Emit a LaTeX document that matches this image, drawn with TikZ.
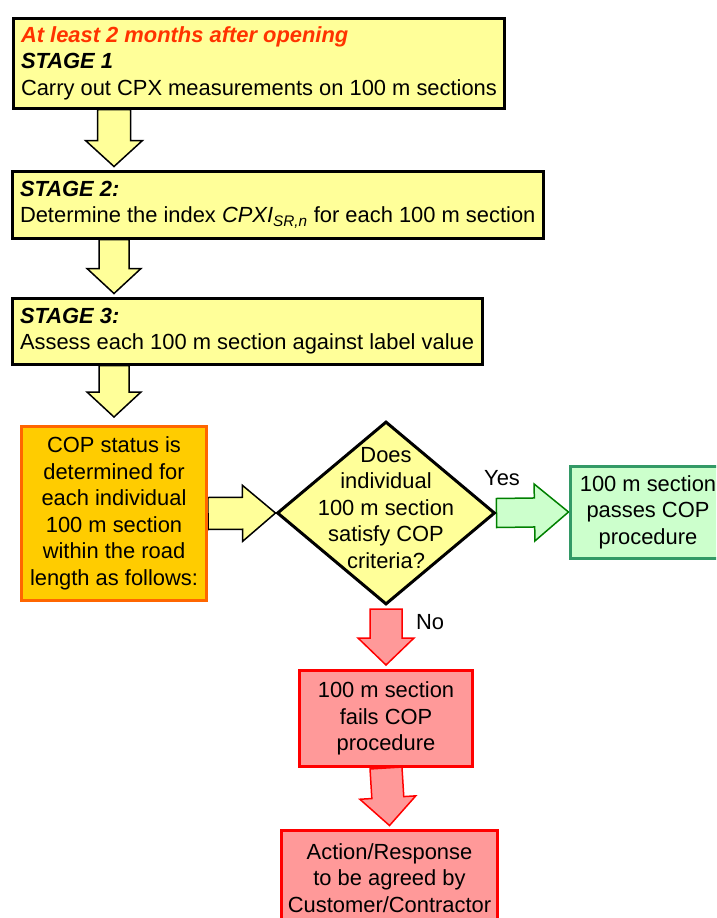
\documentclass[tikz,border=0pt]{standalone}
\usepackage{fontspec}
\setmainfont{Liberation Sans}
\usepackage{xcolor}
\usetikzlibrary{shapes.geometric,calc}

\definecolor{StageFill}{HTML}{FFFF99}
\definecolor{CopFill}{HTML}{FFCC00}
\definecolor{CopLine}{HTML}{FF6600}
\definecolor{FailFill}{HTML}{FF9999}
\definecolor{FailLine}{HTML}{FF0000}
\definecolor{PassFill}{HTML}{CCFFCC}
\definecolor{PassLine}{HTML}{339966}
\definecolor{PassArrow}{HTML}{008000}
\definecolor{OpenRed}{HTML}{FF3300}

\pgfdeclarelayer{background}
\pgfsetlayers{background,main}

\tikzset{
  every node/.append style={font=\fontsize{21.9}{26.5}\selectfont},
  stagebox/.style={draw=black,line width=3pt,fill=StageFill,rectangle,
    align=left,inner xsep=8pt,anchor=north west},
  copbox/.style={draw=CopLine,line width=3pt,fill=CopFill,rectangle,
    align=center,inner sep=0pt},
  askbox/.style={draw=black,line width=3pt,fill=StageFill,diamond,
    inner sep=0pt},
  passbox/.style={draw=PassLine,line width=3pt,fill=PassFill,rectangle,
    align=center,inner sep=0pt},
  failbox/.style={draw=FailLine,line width=3pt,fill=FailFill,rectangle,
    align=center,inner sep=0pt},
  stagearrow/.style={draw=black,line width=1.5pt,fill=StageFill,line join=miter},
  passarrow/.style={draw=PassArrow,line width=1.5pt,fill=PassFill,line join=miter},
  failarrow/.style={draw=FailLine,line width=1.5pt,fill=FailFill,line join=miter},
}

% fat block arrow: [style]{from}{tip}{shaft half width}{head half width}{head length}
\newcommand{\fatarrow}[6][]{%
  \path ($(#3)!#6!(#2)$) coordinate (fathead);
  \draw[#1] ($(#2)!#4!90:(#3)$) -- ($(fathead)!#4!90:(#3)$)
    -- ($(fathead)!#5!90:(#3)$) -- (#3)
    -- ($(fathead)!#5!-90:(#3)$) -- ($(fathead)!#4!-90:(#3)$)
    -- ($(#2)!#4!-90:(#3)$) -- cycle;}

\begin{document}
\begin{tikzpicture}[x=1pt,y=-1pt]
\useasboundingbox (0,0) rectangle (716,918);
\clip (0,0) rectangle (716,918);
%%
\node (stage1) at (11.5,16.5)
  [stagebox,minimum height=90pt]
  {\textcolor{OpenRed}{\textbf{\textit{At least 2 months after opening}}}\\
   \textbf{\textit{STAGE 1}}\\
   Carry out CPX measurements on 100 m sections};
\node (stage2) at (10.5,169.5)
  [stagebox,minimum height=67pt]
  {\textbf{\textit{STAGE 2:}}\\
   Determine the index \textit{CPXI}\textsubscript{\textit{SR,n}} for each 100 m section};
\node (stage3) at (10.5,296.5)
  [stagebox,minimum height=66pt]
  {\textbf{\textit{STAGE 3:}}\\
   Assess each 100 m section against label value};
%%
\node (cop) at (114,513.5)
  [copbox,minimum width=185pt,minimum height=174pt]
  {COP status is\\determined for\\each individual\\100 m section\\within the road\\length as follows:};
\node (ask) at (386,513)
  [askbox,minimum width=218pt,minimum height=183pt,
   label={[align=center,yshift=5pt]center:Does\\individual\\100 m section\\satisfy COP\\criteria?}] {};
\node (pass) at (648,512)
  [passbox,minimum width=156pt,minimum height=92pt]
  {100 m section\\passes COP\\procedure};
\node (fail) at (386,718.5)
  [failbox,minimum width=173pt,minimum height=96pt]
  {100 m section\\fails COP\\procedure};
\node (act) at (389.5,878)
  [failbox,minimum width=216pt,minimum height=96pt]
  {Action/Response\\to be agreed by\\Customer/Contractor};
%%
\node (yes) at (502,478) {Yes};
\node (no) at (430,622) {No};
%%
\begin{pgfonlayer}{background}
\fatarrow[stagearrow]{stage1.south west -| cop.north}{[yshift=3pt]stage2.north west -| cop.north}{16.5pt}{28.5pt}{26pt}
\fatarrow[stagearrow]{stage2.south west -| cop.north}{[yshift=3pt]stage3.north west -| cop.north}{15pt}{27pt}{25pt}
\fatarrow[stagearrow]{stage3.south west -| cop.north}{[yshift=8pt]cop.north}{15pt}{27pt}{25pt}
\fatarrow[stagearrow]{cop.east}{ask.west}{16pt}{28pt}{33pt}
\fatarrow[passarrow]{ask.east}{pass.west}{14.5pt}{28.5pt}{34pt}
\fatarrow[failarrow]{[yshift=-3pt]ask.south}{[yshift=4pt]fail.north}{16pt}{28pt}{27pt}
\fatarrow[failarrow]{fail.south}{[yshift=3pt]act.north}{16pt}{28pt}{28pt}
\end{pgfonlayer}
\end{tikzpicture}
\end{document}
